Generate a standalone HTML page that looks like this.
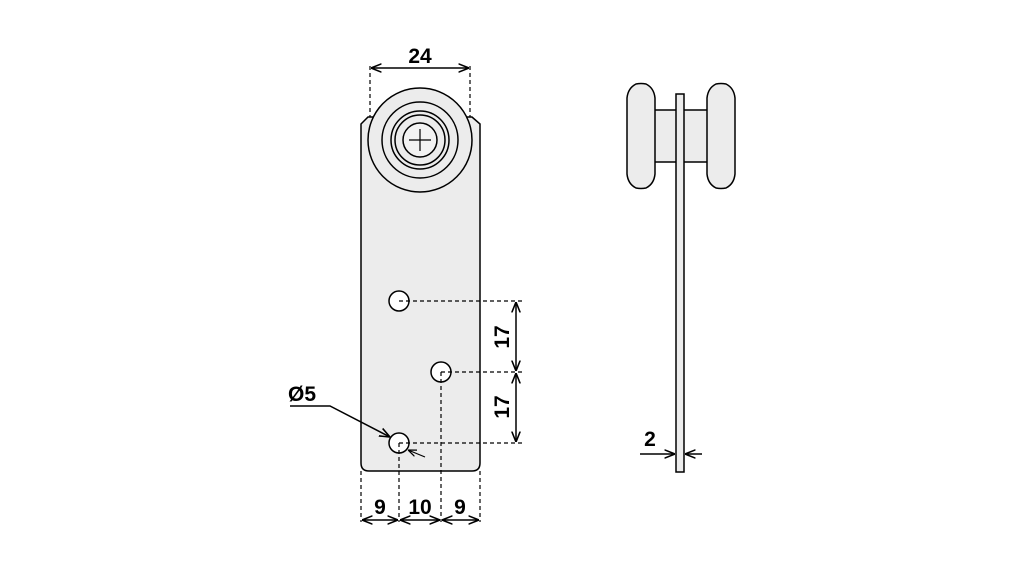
<!DOCTYPE html>
<html><head><style>body{margin:0;background:#fff}</style></head><body>
<svg width="1021" height="567" viewBox="0 0 1021 567" xmlns="http://www.w3.org/2000/svg" font-family="Liberation Sans, sans-serif" font-weight="bold">
<defs>
<marker id="a" viewBox="0 0 10 10" refX="10" refY="5" markerWidth="7" markerHeight="7" orient="auto-start-reverse"><path d="M0,1 L10,5 L0,9" fill="none" stroke="#000" stroke-width="1.5"/></marker>
</defs>
<g stroke="#000" stroke-width="1.5">
<path d="M361,124 L368,117 L376,117 A52,52 0 0 1 464,117 L472,117 L480,124 L480,463 Q480,471 472,471 L369,471 Q361,471 361,463 Z" fill="#ececec"/>
<circle cx="420" cy="140" r="52" fill="#ececec"/>
<circle cx="420" cy="140" r="38" fill="none"/>
<circle cx="420" cy="140" r="29" fill="none"/>
<circle cx="420" cy="140" r="25" fill="none"/>
<circle cx="420" cy="140" r="17" fill="#f2f2f2"/>
<path d="M420,129 V151 M409,140 H431" stroke-width="1.2"/>
<circle cx="399" cy="301" r="10" fill="#fff"/>
<circle cx="441" cy="372" r="10" fill="#fff"/>
<circle cx="399" cy="443" r="10" fill="#fff"/>
</g>
<g stroke="#000" stroke-width="1.2" stroke-dasharray="4,3" fill="none">
<path d="M399,301 H522 M441,372 H522 M399,443 H522"/>
<path d="M441,372 V522 M399,443 V522 M361,471 V522 M480,471 V522"/>
<path d="M370,66 V117 M470,66 V117"/>
</g>
<g stroke="#000" stroke-width="1.5" fill="none">
<path d="M371,68 H469" marker-start="url(#a)" marker-end="url(#a)"/>
<path d="M516,302 V371" marker-start="url(#a)" marker-end="url(#a)"/>
<path d="M516,373 V442" marker-start="url(#a)" marker-end="url(#a)"/>
<path d="M362,520 H398" marker-start="url(#a)" marker-end="url(#a)"/>
<path d="M400,520 H440" marker-start="url(#a)" marker-end="url(#a)"/>
<path d="M442,520 H479" marker-start="url(#a)" marker-end="url(#a)"/>
<path d="M290,406 H330 L390,437" marker-end="url(#a)"/>
<path d="M425,457 L408,450" marker-end="url(#a)" stroke-width="1.2"/>
<path d="M640,454 H675" marker-end="url(#a)"/>
<path d="M702,454 H685" marker-end="url(#a)"/>
</g>
<g font-size="21" text-anchor="middle">
<text x="420" y="63">24</text>
<text x="380" y="514">9</text>
<text x="420" y="514">10</text>
<text x="460" y="514">9</text>
<text x="302" y="401">Ø5</text>
<text x="650" y="446">2</text>
<text transform="translate(509,337) rotate(-90)">17</text>
<text transform="translate(509,407) rotate(-90)">17</text>
</g>
<g stroke="#000" stroke-width="1.5" fill="#ececec">
<rect x="653" y="110" width="56" height="52"/>
<path d="M636,84 Q641,83 646,84 Q654,88 655,98 L655,174 Q654,184 646,188 Q641,189 636,188 Q628,184 627,174 L627,98 Q628,88 636,84 Z"/>
<path d="M716,84 Q721,83 726,84 Q734,88 735,98 L735,174 Q734,184 726,188 Q721,189 716,188 Q708,184 707,174 L707,98 Q708,88 716,84 Z"/>
<rect x="676" y="94" width="8" height="378"/>
</g>
</svg>
</body></html>
